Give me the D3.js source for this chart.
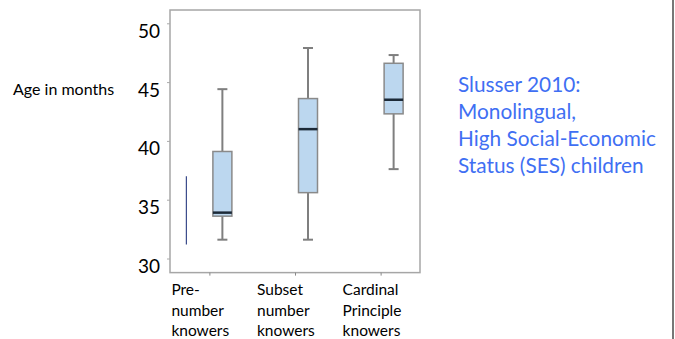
<!DOCTYPE html>
<html>
<head>
<meta charset="utf-8">
<script src="https://cdn.jsdelivr.net/npm/d3@7"></script>
<style>
    body { margin: 0; background: #fff; }
    text { font-family: Lato, "Open Sans", sans-serif; }
</style>
</head>
<body>
<svg class="box-chart" width="675" height="339"></svg>
<script>
/****** Data *******/
var categories = ["Pre-number knowers", "Subset number knowers", "Cardinal Principle knowers"];
var labelLines = [["Pre-", "number", "knowers"], ["Subset", "number", "knowers"], ["Cardinal", "Principle", "knowers"]];
var whiskerLow = [31.6, 31.6, 37.6];
var q1 = [33.6, 35.6, 42.3];
var median = [33.9, 41.0, 43.5];
var q3 = [39.1, 43.6, 46.6];
var whiskerHigh = [44.4, 47.9, 47.3];
var yTicks = [30, 35, 40, 45, 50];
var strayLine = [31.2, 37.0]; // thin blue line left of first box
var noteLines = ["Slusser 2010:", "Monolingual,", "High Social-Economic", "Status (SES) children"];

/** Build rows for the boxes **/
var rows = categories.map(function (c, i) {
    return {cat: c, lo: whiskerLow[i], q1: q1[i], med: median[i], q3: q3[i], hi: whiskerHigh[i]};
});

/** Draw chart **/
var svg = d3.select(".box-chart");

var x = d3.scalePoint()
    .domain(categories)
    .range([170, 420])
    .padding(0.46);

var y = d3.scaleLinear()
    .domain([30, 50])
    .range([258.5, 23.3]);

var boxOffset = 13, boxWidth = 19, capWidth = 10;

// plot frame
svg.append("rect")
    .attr("x", 170)
    .attr("y", y(51.13))
    .attr("width", 250)
    .attr("height", y(28.8) - y(51.13))
    .attr("fill", "none")
    .attr("stroke", "#a6a6a6")
    .attr("stroke-width", 1.5);

// y axis
var yAxis = svg.append("g")
    .attr("transform", "translate(170,0)")
    .call(d3.axisLeft(y).tickValues(yTicks).tickSize(3).tickPadding(7));
yAxis.select(".domain").remove();
yAxis.selectAll(".tick line").attr("stroke", "#aaa");
yAxis.selectAll(".tick text")
    .attr("fill", "#000")
    .attr("font-size", 19)
    .attr("font-family", "Lato, sans-serif")
    .attr("dy", "0.74em");

// x axis
var xAxis = svg.append("g")
    .attr("transform", "translate(0," + y(28.8) + ")")
    .call(d3.axisBottom(x).tickSize(3).tickFormat(""));
xAxis.select(".domain").remove();
xAxis.selectAll(".tick line").attr("stroke", "#888");

// category labels
var labels = svg.append("g").selectAll("text")
    .data(categories)
    .enter().append("text")
    .attr("x", function (d) { return x(d) - 38; })
    .attr("y", 295)
    .attr("font-size", 15.5)
    .attr("fill", "#000");
labels.selectAll("tspan")
    .data(function (d, i) { return labelLines[i]; })
    .enter().append("tspan")
    .attr("x", function () { return d3.select(this.parentNode).attr("x"); })
    .attr("dy", function (d, i) { return i === 0 ? 0 : 20.5; })
    .text(function (d) { return d; });

// y title
svg.append("text")
    .attr("x", 13)
    .attr("y", 95)
    .attr("font-size", 16)
    .attr("fill", "#000")
    .text("Age in months");

// stray line
svg.append("line")
    .attr("x1", x(categories[0]) - 23)
    .attr("x2", x(categories[0]) - 23)
    .attr("y1", y(strayLine[0]))
    .attr("y2", y(strayLine[1]))
    .attr("stroke", "#3a4a8a")
    .attr("stroke-width", 1.2);

// boxes
var g = svg.append("g");
var box = g.selectAll(".box")
    .data(rows)
    .enter().append("g")
    .attr("class", "box")
    .attr("transform", function (d) { return "translate(" + (x(d.cat) + boxOffset) + ",0)"; });

box.append("line")
    .attr("x1", 0).attr("x2", 0)
    .attr("y1", function (d) { return y(d.lo); })
    .attr("y2", function (d) { return y(d.hi); })
    .attr("stroke", "#7f7f7f")
    .attr("stroke-width", 2);

box.selectAll(".cap")
    .data(function (d) { return [d.lo, d.hi]; })
    .enter().append("line")
    .attr("class", "cap")
    .attr("x1", -capWidth / 2).attr("x2", capWidth / 2)
    .attr("y1", function (v) { return y(v); })
    .attr("y2", function (v) { return y(v); })
    .attr("stroke", "#7f7f7f")
    .attr("stroke-width", 2);

box.append("rect")
    .attr("x", -boxWidth / 2)
    .attr("width", boxWidth)
    .attr("y", function (d) { return y(d.q3); })
    .attr("height", function (d) { return y(d.q1) - y(d.q3); })
    .attr("fill", "#bcd7ef")
    .attr("stroke", "#8a8a8a")
    .attr("stroke-width", 1.5);

box.append("line")
    .attr("x1", -boxWidth / 2).attr("x2", boxWidth / 2)
    .attr("y1", function (d) { return y(d.med); })
    .attr("y2", function (d) { return y(d.med); })
    .attr("stroke", "#1c2a38")
    .attr("stroke-width", 2.5);

// note text
svg.append("g").selectAll("text")
    .data(noteLines)
    .enter().append("text")
    .attr("x", 458)
    .attr("y", function (d, i) { return 92 + i * 27; })
    .attr("font-size", 20.8)
    .attr("fill", "#3f6ff3")
    .text(function (d) { return d; });

// right edge rule
svg.append("line")
    .attr("x1", 673).attr("x2", 673)
    .attr("y1", 0).attr("y2", 339)
    .attr("stroke", "#777")
    .attr("stroke-width", 2);
</script>
</body>
</html>
